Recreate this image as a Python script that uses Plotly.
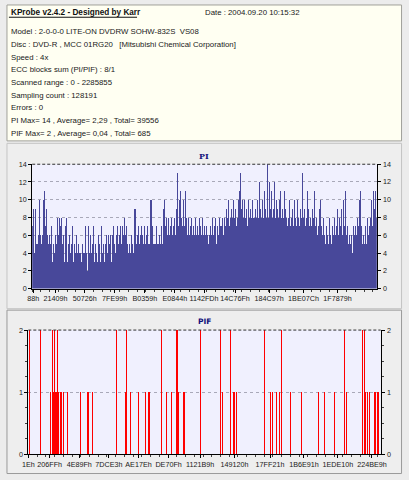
import plotly.graph_objects as go

W, H = 409, 480

# ---------------- data ----------------
info_title = "KProbe v2.4.2 - Designed by Karr"
info_date = "Date : 2004.09.20 10:15:32"
info_lines = [
    "Model : 2-0-0-0 LITE-ON DVDRW SOHW-832S\u00a0\u00a0VS08",
    "Disc : DVD-R , MCC 01RG20\u00a0\u00a0\u00a0[Mitsubishi Chemical Corporation]",
    "Speed : 4x",
    "ECC blocks sum (PI/PIF) : 8/1",
    "Scanned range : 0 - 2285855",
    "Sampling count : 128191",
    "Errors : 0",
    "PI Max= 14 , Average= 2,29 , Total= 39556",
    "PIF Max= 2 , Average= 0,04 , Total= 685",
]

pi_left = [7, 9, 4, 9, 5, 5, 6, 10, 6, 5, 6, 10, 11, 7, 9, 6, 5, 6, 5, 7,
           3, 5, 4, 6, 7, 5, 8, 6, 8, 7, 8, 5, 6, 3, 7, 8, 3, 5, 6, 4,
           5, 7, 3, 5, 4, 6, 4, 5, 4, 4, 3, 5, 4, 4, 7, 4, 2, 7, 5, 4,
           6, 4, 5, 7, 3, 5, 4, 3, 6, 5, 3, 7, 4, 5, 3, 5, 6, 4, 6, 5,
           6, 3, 6, 7, 5, 4, 6, 7, 5, 6, 7, 5, 6, 7, 6, 8, 6, 7, 5, 4,
           5, 4, 6, 5, 4, 9, 9, 5, 6, 7, 5, 6, 7, 6, 5, 7, 5, 6, 7, 5,
           5, 10, 10, 7, 5, 5, 6, 5, 7, 5, 5, 6, 5, 7, 5, 9, 10, 7, 8, 6,
           8, 6, 7, 8, 6, 7, 8, 6, 9, 13, 7, 10, 11, 8, 7, 10, 7, 11, 8, 6,
           9, 8, 6, 7, 8, 6, 7, 6, 8, 6, 7, 6, 8, 7, 6, 8, 6, 7]
pi_right = [6, 7, 6, 5, 6, 7, 6, 8, 6, 7, 8, 5, 7, 6, 8, 7, 9, 7, 8, 6,
            8, 7, 9, 8, 10, 7, 8, 9, 8, 10, 8, 9, 7, 8, 10, 11, 13, 9, 10, 8,
            10, 8, 9, 7, 10, 8, 9, 8, 10, 8, 10, 8, 9, 8, 10, 8, 12, 9, 8, 10,
            8, 11, 9, 8, 14, 8, 12, 9, 11, 8, 9, 12, 8, 10, 9, 8, 10, 11, 8, 9,
            8, 11, 9, 8, 9, 7, 8, 10, 7, 8, 9, 7, 10, 8, 7, 10, 8, 7, 9, 8,
            13, 8, 9, 7, 8, 11, 9, 7, 8, 7, 9, 8, 11, 7, 8, 6, 7, 9, 7, 10,
            7, 6, 8, 6, 5, 7, 6, 5, 8, 6, 5, 7, 6, 8, 6, 7, 9, 6, 8, 7,
            9, 6, 10, 7, 11, 6, 7, 5, 6, 5, 6, 4, 5, 7, 6, 7, 6, 8, 7, 10,
            11, 7, 5, 6, 5, 7, 5, 8, 6, 7, 8, 10, 7, 11, 9, 11, 8]
pi_values = pi_left + pi_right
pi_samples = list(range(len(pi_values)))

pi_tick_labels = ["88h", "21409h", "50726h", "7FE99h", "B0359h", "E0844h",
                  "1142FDh", "14C76Fh", "184C97h", "1BE07Ch", "1F7879h"]
pif_tick_labels = ["1Eh", "206FFh", "4E89Fh", "7DCE3h", "AE17Eh", "DE70Fh",
                   "1121B9h", "149120h", "17FF21h", "1B6E91h", "1EDE10h", "224BE9h"]

pif_pos = [1, 12.7, 22.7, 24.7, 26, 27, 28, 29.3, 30.3, 31.3,
           32.7, 34.3, 36, 40.7, 53.3, 60.5, 62, 66.3, 90.7, 99.7,
           100.7, 105.3, 113.7, 120.3, 123.7, 125.3, 137.7, 142.7, 148, 152.7,
           153.3, 154.7, 159.7, 161.3, 177,
           198.3, 200.3, 208.5, 211, 212.7, 214.3, 216, 243.3, 249.3, 251.7,
           256, 258.3, 261, 270.3, 273.7, 281.3, 298.7, 305.3, 315, 326,
           327.3, 343.8, 346, 347.7, 349.3, 351.7, 356.7, 357.7, 360, 361]
pif_val = [2, 2, 1, 2, 1, 2, 1, 1, 2, 1,
           1, 1, 1, 1, 1, 1, 1, 1, 2, 1,
           2, 1, 1, 1, 1, 1, 2, 1, 1, 2,
           2, 1, 1, 1, 2,
           2, 1, 2, 1, 1, 1, 1, 2, 1, 1,
           1, 1, 2, 1, 1, 1, 1, 1, 1, 2,
           1, 2, 2, 1, 1, 1, 1, 1, 1, 1]

# ---------------- layout geometry (pixels) ----------------
PI_L, PI_R, PI_T, PI_B = 27, 382, 163.3, 290
PF_L, PF_R, PF_T, PF_B = 23, 386, 332.3, 459
pi_label_px = [28, 51, 81, 112, 143, 174, 204, 236, 271, 306.5, 341.5]
pif_label_px = [23, 45, 75.5, 106, 136.5, 167.5, 200, 235.5, 272, 307, 342, 377]


def fx(px):
    return px / W


def fy(py):
    return 1 - py / H


N = len(pi_values)
pi_scale = N / (PI_R - PI_L)
pi_tickvals = [(p - PI_L) * pi_scale - 0.5 for p in pi_label_px]
pif_tickvals = [p - PF_L for p in pif_label_px]

FONT = "Liberation Sans"
TXT = "#202020"
PI_COLOR = "#48489A"
PIF_COLOR = "#FF0000"
PLOT_BG = "#F0F0FE"
PANEL_BG = "#EEEEEE"

fig = go.Figure()
fig.add_trace(go.Bar(x=pi_samples, y=pi_values, marker=dict(color=PI_COLOR, line=dict(width=0)),
                     xaxis="x", yaxis="y", showlegend=False, hoverinfo="skip"))
fig.add_trace(go.Bar(x=pif_pos, y=pif_val, width=1.0, marker=dict(color=PIF_COLOR, line=dict(width=0)),
                     xaxis="x2", yaxis="y2", showlegend=False, hoverinfo="skip"))

tickfont = dict(family=FONT, size=7.2, color=TXT)
axis_style = dict(showline=True, linecolor="black", linewidth=1, ticks="outside", ticklen=3,
                  tickcolor="black", tickfont=tickfont, zeroline=False, fixedrange=True, mirror="ticks")

shapes = [
    # info box
    dict(type="rect", xref="paper", yref="paper", x0=fx(1), x1=fx(407.5), y0=fy(1), y1=fy(139.5),
         fillcolor="#FFFFF2", line=dict(color="#A0A09A", width=1), layer="below"),
    # chart panels
    dict(type="rect", xref="paper", yref="paper", x0=fx(1), x1=fx(407.5), y0=fy(142), y1=fy(310.5),
         fillcolor=PANEL_BG, line=dict(color="#C4C4C4", width=1), layer="below"),
    dict(type="rect", xref="paper", yref="paper", x0=fx(1), x1=fx(407.5), y0=fy(312), y1=fy(478.5),
         fillcolor=PANEL_BG, line=dict(color="#9A9A9A", width=1), layer="below"),
    # plot backgrounds
    dict(type="rect", xref="x domain", yref="y domain", x0=0, x1=1, y0=0, y1=1,
         fillcolor=PLOT_BG, line=dict(width=0), layer="below"),
    dict(type="rect", xref="x2 domain", yref="y2 domain", x0=0, x1=1, y0=0, y1=1,
         fillcolor=PLOT_BG, line=dict(width=0), layer="below"),
    # dashed top borders
    dict(type="line", xref="x domain", yref="y domain", x0=0, x1=1, y0=1, y1=1,
         line=dict(color="#303030", width=1, dash="3px,2px"), layer="above"),
    dict(type="line", xref="x2 domain", yref="y2 domain", x0=0, x1=1, y0=1, y1=1,
         line=dict(color="#303030", width=1, dash="3px,2px"), layer="above"),
    # title underline
    dict(type="line", xref="paper", yref="paper", x0=fx(3), x1=fx(135), y0=fy(13.5), y1=fy(13.5),
         line=dict(color="#101010", width=1)),
]

annotations = [
    dict(text="<b>" + info_title + "</b>", x=fx(3), y=fy(8.3), xref="paper", yref="paper",
         xanchor="left", yanchor="middle", showarrow=False, font=dict(family=FONT, size=8.2, color="#101010")),
    dict(text=info_date, x=fx(203), y=fy(8.3), xref="paper", yref="paper",
         xanchor="left", yanchor="middle", showarrow=False, font=dict(family=FONT, size=7.8, color=TXT)),
    dict(text="<b>PI</b>", x=fx(204), y=fy(155), xref="paper", yref="paper",
         xanchor="center", yanchor="middle", showarrow=False, font=dict(family="DejaVu Serif", size=8, color="#10107A")),
    dict(text="<b>PIF</b>", x=fx(204), y=fy(324), xref="paper", yref="paper",
         xanchor="center", yanchor="middle", showarrow=False, font=dict(family="DejaVu Sans", size=7.5, color="#10107A")),
]
for i, line in enumerate(info_lines):
    annotations.append(dict(text=line, x=fx(3), y=fy(28.3 + 12.9 * i), xref="paper", yref="paper",
                            xanchor="left", yanchor="middle", showarrow=False,
                            font=dict(family=FONT, size=7.8, color=TXT)))

# right-hand tick labels (mirror of the left axis values)
for v in range(0, 15, 2):
    annotations.append(dict(text=str(v), x=fx(PI_R + 4), y=v, xref="paper", yref="y",
                            xanchor="left", yanchor="middle", showarrow=False, font=tickfont))
for v in [0, 1, 2]:
    annotations.append(dict(text=str(v), x=fx(PF_R + 4), y=v, xref="paper", yref="y2",
                            xanchor="left", yanchor="middle", showarrow=False, font=tickfont))

fig.update_layout(
    width=W, height=H, margin=dict(l=0, r=0, t=0, b=0), autosize=False,
    paper_bgcolor="#ECECEC", plot_bgcolor="rgba(0,0,0,0)",
    bargap=0, barmode="overlay", showlegend=False,
    xaxis=dict(domain=[fx(PI_L), fx(PI_R)], range=[-0.5, N - 0.5], anchor="y",
               tickvals=pi_tickvals, ticktext=pi_tick_labels, tickfont=tickfont, tickangle=0,
               showline=True, linecolor="black", linewidth=1, ticks="outside", ticklen=3,
               tickcolor="black", showgrid=False, zeroline=False, fixedrange=True,
               minor=dict(ticks="outside", ticklen=2, dtick=9, tick0=-0.5, tickcolor="#404040", showgrid=False)),
    yaxis=dict(domain=[fy(PI_B), fy(PI_T)], range=[0, 14], anchor="x",
               tickvals=list(range(0, 15, 2)), showgrid=True, gridcolor="#A8A8B8",
               griddash="3px,3px", gridwidth=1, **axis_style),
    xaxis2=dict(domain=[fx(PF_L), fx(PF_R)], range=[0, PF_R - PF_L], anchor="y2",
                tickvals=pif_tickvals, ticktext=pif_tick_labels, tickfont=tickfont, tickangle=0,
                showline=True, linecolor="black", linewidth=1, ticks="outside", ticklen=3,
                tickcolor="black", showgrid=False, zeroline=False, fixedrange=True,
                minor=dict(ticks="outside", ticklen=2, dtick=9, tick0=0, tickcolor="#404040", showgrid=False)),
    yaxis2=dict(domain=[fy(PF_B), fy(PF_T)], range=[0, 2], anchor="x2",
                tickvals=[0, 1, 2], showgrid=True, gridcolor="#A8A8B8",
                griddash="3px,3px", gridwidth=1,
                minor=dict(ticks="outside", ticklen=2, dtick=0.25, tickcolor="#404040"), **axis_style),
    shapes=shapes, annotations=annotations,
)

fig.write_html("out.html", config={"displayModeBar": False, "staticPlot": True})

# remove the browser's default page margin so the figure sits at the top-left corner
with open("out.html", "r", encoding="utf-8") as f:
    page = f.read()
page = page.replace("<head>", "<head><style>html,body{margin:0;padding:0;overflow:hidden;}</style>", 1)
with open("out.html", "w", encoding="utf-8") as f:
    f.write(page)
